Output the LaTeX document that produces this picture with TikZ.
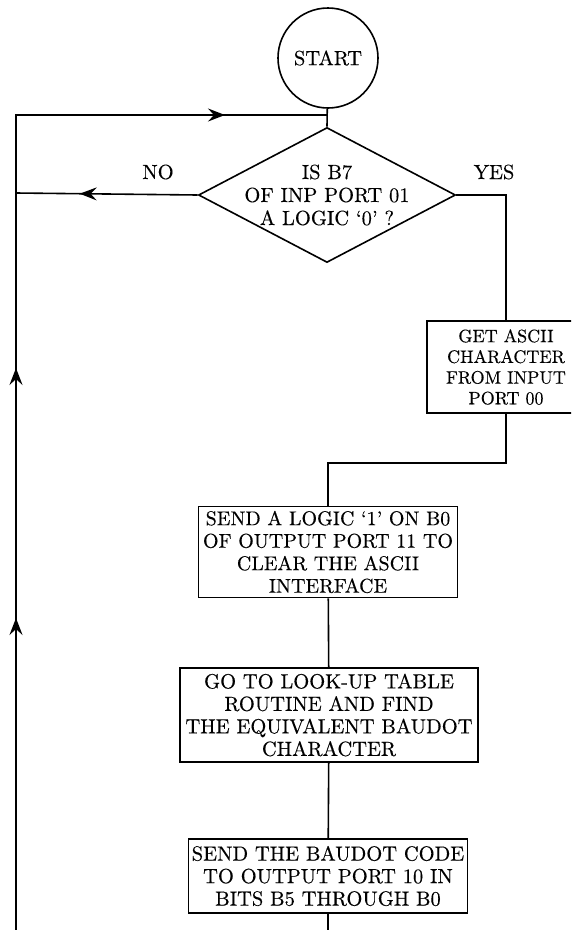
\documentclass[tikz,border=0pt]{standalone}
\usepackage{fontspec}
\setmainfont{lmroman10-regular}[Extension=.otf, FakeBold=0.3]
\usepackage{tikz}
\usetikzlibrary{arrows.meta,positioning,shapes.geometric,decorations.markings}

\tikzset{
  flow/.tip={Stealth[length=17pt,width=13pt,inset=6pt]},
}

\begin{document}
\begin{tikzpicture}[
      x=1pt, y=-1pt, line width=1.6pt,
      font=\fontsize{20.5}{22.5}\selectfont,
      term/.style={draw, circle, minimum size=100pt, inner sep=0pt},
      dec/.style={draw, diamond, minimum width=257pt, minimum height=135pt, inner sep=0pt},
      blk/.style={draw, align=center, inner sep=2pt},
      lbl/.style={inner sep=0pt},
      arrat/.style={postaction={decorate},
        decoration={markings, mark=at position #1 with {\arrow{flow}}}},
    ]
    \useasboundingbox (0,0) rectangle (571,930);
    \clip (0,0) rectangle (571,930);
    \node[term] (start) at (328,58) {START};
    \node[dec, label={[align=center, lbl, font=\fontsize{20.5}{23}\selectfont]center:{IS B7\\OF INP PORT 01\\A LOGIC `0' ?}}]
      (test) at (327,195) {};
    \node[lbl] (no) at (158,172) {NO};
    \node[lbl] (yes) at (494,172) {YES};
    \node[blk, minimum width=158pt, minimum height=92pt, font=\fontsize{18}{20.7}\selectfont]
      (getc) at (506,367) {GET ASCII\\CHARACTER\\FROM INPUT\\PORT 00};
    \node[blk, minimum width=259pt, minimum height=91pt, font=\fontsize{20}{22.5}\selectfont]
      (clr) at (328,552)
      {SEND A LOGIC `1' ON B0\\OF OUTPUT PORT 11 TO\\CLEAR THE ASCII\\INTERFACE};
    \node[blk, minimum width=298pt, minimum height=94pt] (look) at (329,715)
      {GO TO LOOK-UP TABLE\\ROUTINE AND FIND\\THE EQUIVALENT BAUDOT\\CHARACTER};
    \node[blk, minimum width=279pt, minimum height=74pt] (send) at (328,876)
      {SEND THE BAUDOT CODE\\TO OUTPUT PORT 10 IN\\BITS B5 THROUGH B0};
    \coordinate (jn) at (328,115);
    \coordinate (lt) at (16,115);
    \coordinate (lb) at (16,930);
    \coordinate (nl) at (16,193);
    \coordinate (cb) at (328,930);
    \draw (start) -- (test.north);
    \draw[postaction={decorate}, decoration={markings,
        mark=at position 312pt with {\arrow{flow}},
        mark=at position 562pt with {\arrow{flow}},
        mark=at position 1024pt with {\arrow{flow}}}]
      (lb) -- (lt) -- (jn);
    \draw[arrat=118pt] (test.west) -- (nl);
    \draw (test.east) -| (getc.north);
    \draw (getc.south) -- ++(0,49) -| (clr.north);
    \draw (clr) -- (look);
    \draw (look) -- (send);
    \draw (send) -- (cb);
  \end{tikzpicture}
\end{document}
